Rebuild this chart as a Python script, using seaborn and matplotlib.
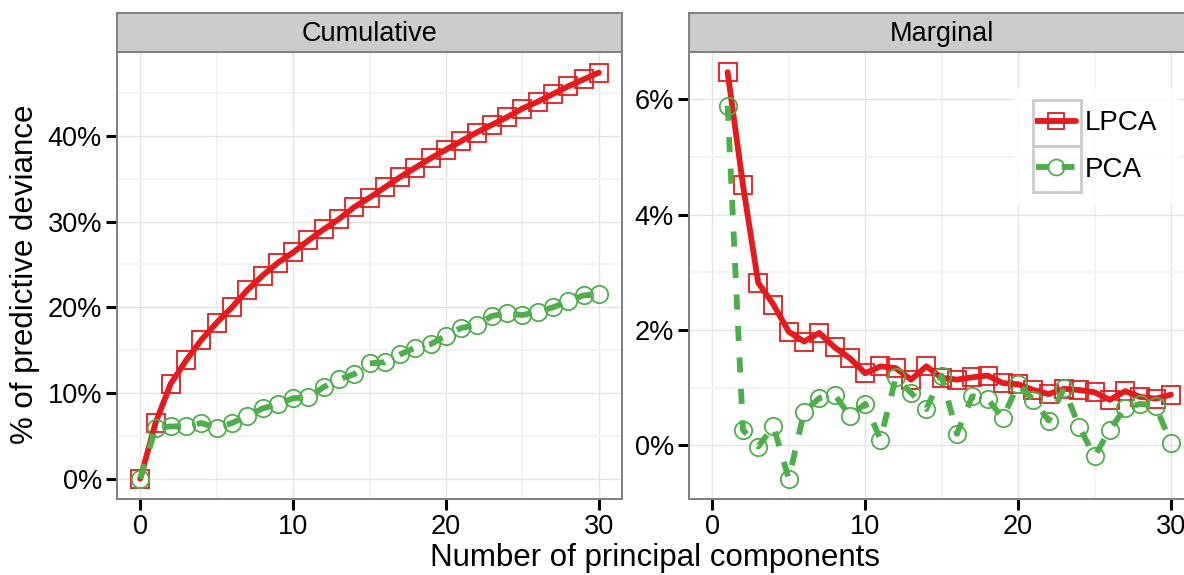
import numpy as np
import pandas as pd
import matplotlib
matplotlib.use("Agg")
import matplotlib.pyplot as plt
import seaborn as sns
from matplotlib.patches import Rectangle
from matplotlib.lines import Line2D
from matplotlib.ticker import MultipleLocator, FuncFormatter

# ---- data ---------------------------------------------------------------
methods = ["LPCA", "PCA"]

cumulative_k = list(range(0, 31))
lpca_cumulative = [0.0, 6.5, 11.1, 13.8, 16.2, 18.2, 20.0, 22.0, 23.7, 25.2,
                   26.4, 27.8, 29.1, 30.3, 31.7, 32.8, 34.0, 35.2, 36.3, 37.4,
                   38.4, 39.4, 40.4, 41.3, 42.2, 43.2, 44.0, 44.9, 45.8, 46.6,
                   47.4]
pca_cumulative = [0.0, 5.9, 6.1, 6.1, 6.5, 5.9, 6.5, 7.3, 8.2, 8.7,
                  9.4, 9.5, 10.7, 11.6, 12.2, 13.45, 13.6, 14.5, 15.3, 15.7,
                  16.7, 17.6, 17.9, 19.0, 19.3, 19.1, 19.5, 20.0, 20.7, 21.4,
                  21.5]

marginal_k = list(range(1, 31))
lpca_marginal = [6.47, 4.52, 2.82, 2.44, 1.97, 1.80, 1.95, 1.70, 1.51, 1.25,
                 1.37, 1.34, 1.14, 1.37, 1.17, 1.14, 1.18, 1.21, 1.08, 1.06,
                 0.96, 0.89, 0.98, 0.96, 0.92, 0.79, 0.94, 0.84, 0.81, 0.88]
pca_marginal = [5.89, 0.27, -0.02, 0.33, -0.58, 0.58, 0.82, 0.88, 0.51, 0.72,
                0.10, 1.18, 0.91, 0.63, 1.21, 0.20, 0.85, 0.81, 0.47, 1.06,
                0.79, 0.43, 0.99, 0.32, -0.19, 0.27, 0.65, 0.72, 0.68, 0.04]

panel_titles = ["Cumulative", "Marginal"]
x_ticks = [0, 10, 20, 30]
y_ticks_cumulative = [0, 10, 20, 30, 40]
y_ticks_marginal = [0, 2, 4, 6]


def long_frame(k, lpca, pca):
    return pd.DataFrame({
        "k": list(k) + list(k),
        "deviance": list(lpca) + list(pca),
        "method": [methods[0]] * len(k) + [methods[1]] * len(k),
    })


cum_df = long_frame(cumulative_k, lpca_cumulative, pca_cumulative)
mar_df = long_frame(marginal_k, lpca_marginal, pca_marginal)

# ---- style --------------------------------------------------------------
sns.set_style("white")
plt.rcParams["font.family"] = ["Liberation Sans", "DejaVu Sans"]
plt.rcParams["text.color"] = "black"

palette = {"LPCA": "#E41A1C", "PCA": "#4DAF4A"}
markers = {"LPCA": "s", "PCA": "o"}
dashes = {"LPCA": "", "PCA": (2.6, 2.8)}
LINE_W = 4.2
MARKER_SIZE = 12.5
MARKER_EW = 1.3
BORDER = "#7F7F7F"
TICK_SIZE = 19.5
STRIP_SIZE = 19.5
TITLE_SIZE = 22.5
LEGEND_SIZE = 20

W, H = 1184, 575
fig = plt.figure(figsize=(W / 100, H / 100), dpi=100)


def px_axes(x0, y0, x1, y1):
    return fig.add_axes([x0 / W, 1 - y1 / H, (x1 - x0) / W, (y1 - y0) / H])


pct = FuncFormatter(lambda v, p: f"{v:.0f}%")


def draw_panel(box, df, yticks, yminor, ylim, title, strip_top=13.3):
    ax = px_axes(*box)
    sns.lineplot(data=df, x="k", y="deviance", hue="method", style="method",
                 hue_order=methods, style_order=methods, palette=palette,
                 markers=markers, dashes=dashes, linewidth=LINE_W,
                 markersize=MARKER_SIZE, legend=False, ax=ax)
    for line in ax.get_lines():
        line.set_markerfacecolor("none")
        line.set_markeredgecolor(line.get_color())
        line.set_markeredgewidth(MARKER_EW)
        line.set_dash_capstyle("butt")
    ax.set_xlim(-1.5, 31.5)
    ax.set_ylim(*ylim)
    ax.set_xticks(x_ticks)
    ax.set_yticks(yticks)
    ax.xaxis.set_minor_locator(MultipleLocator(5))
    ax.yaxis.set_minor_locator(MultipleLocator(yminor))
    ax.yaxis.set_major_formatter(pct)
    ax.set_axisbelow(True)
    ax.grid(which="major", color="#E4E4E4", linewidth=1.0)
    ax.grid(which="minor", color="#F3F3F3", linewidth=1.5)
    ax.tick_params(which="major", bottom=True, left=True, length=8,
                   width=2.2, color="black", labelsize=TICK_SIZE,
                   labelcolor="black", pad=3)
    ax.tick_params(which="minor", length=0)
    ax.set_xlabel("")
    ax.set_ylabel("")
    for s in ax.spines.values():
        s.set_color(BORDER)
        s.set_linewidth(1.4)
        s.set_visible(True)

    # facet strip above the panel
    strip = px_axes(box[0], strip_top, box[2], box[1])
    strip.set_facecolor("#CCCCCC")
    strip.set_xticks([])
    strip.set_yticks([])
    for s in strip.spines.values():
        s.set_color(BORDER)
        s.set_linewidth(1.4)
        s.set_visible(True)
    strip.text(0.5, 0.47, title, ha="center", va="center",
               fontsize=STRIP_SIZE, color="black", transform=strip.transAxes)
    return ax


# panel geometry (pixels); the marginal panel runs past the right edge
top, bottom = 52, 499
ax_cum = draw_panel((117.3, top, 621.8, bottom), cum_df,
                    y_ticks_cumulative, 5, (-2.37, 49.8), panel_titles[0])
ax_mar = draw_panel((689.4, top, 1193.9, bottom), mar_df,
                    y_ticks_marginal, 1, (-0.93, 6.82), panel_titles[1])

# legend inside the marginal panel
handles = []
for m in methods:
    handles.append(Line2D([], [], color=palette[m], linewidth=LINE_W,
                          marker=markers[m], markersize=MARKER_SIZE - 1,
                          markerfacecolor="none", markeredgecolor=palette[m],
                          markeredgewidth=MARKER_EW,
                          dashes=(2.2, 2.2) if m == "PCA" else (None, None)))
leg = ax_mar.legend(handles, methods, loc="upper left",
                    bbox_to_anchor=(1014 / W, 1 - 88 / H),
                    bbox_transform=fig.transFigure, fontsize=LEGEND_SIZE,
                    frameon=True, fancybox=False, handlelength=1.44,
                    handletextpad=0.3, labelspacing=0.74, borderpad=0.8,
                    borderaxespad=0)
leg.get_frame().set_facecolor("white")
leg.get_frame().set_edgecolor("none")
for t in leg.get_texts():
    t.set_color("black")

# grey outlines around the legend keys
for y0 in (100, 146):
    fig.patches.append(Rectangle((1033 / W, 1 - (y0 + 46) / H), 48 / W, 46 / H,
                                 transform=fig.transFigure, fill=False,
                                 edgecolor="#CCCCCC", linewidth=2.0,
                                 zorder=10))

# shared axis titles
fig.text(655 / W, 1 - 558 / H, "Number of principal components",
         ha="center", va="center", fontsize=TITLE_SIZE, color="black")
fig.text(25 / W, 1 - 274 / H, "% of predictive deviance", ha="center",
         va="center", rotation=90, fontsize=TITLE_SIZE, color="black")

fig.savefig("out.png", dpi=100)
